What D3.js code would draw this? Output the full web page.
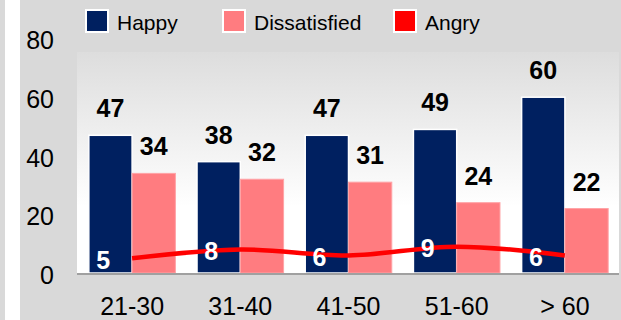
<!DOCTYPE html>
<html>
<head>
<meta charset="utf-8">
<script src="https://cdn.jsdelivr.net/npm/d3@7/dist/d3.min.js"></script>
<style>
  html, body { margin: 0; padding: 0; background: #d9d9d9; }
  svg { display: block; font-family: "Liberation Sans", Arial, sans-serif; }
</style>
</head>
<body>
<svg id="chart" width="621" height="320"></svg>
<script>
// Survey responses by age group
const categories = ["21-30", "31-40", "41-50", "51-60", "> 60"];
const happy = [47, 38, 47, 49, 60];
const dissatisfied = [34, 32, 31, 24, 22];
const angry = [5, 8, 6, 9, 6];
const yTicks = [0, 20, 40, 60, 80];
const seriesNames = ["Happy", "Dissatisfied", "Angry"];
const seriesColors = ["#002060", "#ff7c80", "#ff0000"];

const W = 621, H = 320;
const plot = { left: 77, right: 619, top: 52, bottom: 273 };

const svg = d3.select("#chart");

// page background with a white strip on the left
svg.append("rect").attr("width", W).attr("height", H).attr("fill", "#d9d9d9");
svg.append("rect").attr("x", 5).attr("y", 0).attr("width", 15).attr("height", H).attr("fill", "#ffffff");

// plot area with a grey-to-white vertical gradient
const defs = svg.append("defs");
const grad = defs.append("linearGradient").attr("id", "plotBg")
  .attr("x1", 0).attr("y1", 0).attr("x2", 0).attr("y2", 1);
grad.append("stop").attr("offset", "0%").attr("stop-color", "#dddddd");
grad.append("stop").attr("offset", "70%").attr("stop-color", "#ffffff");
grad.append("stop").attr("offset", "100%").attr("stop-color", "#ffffff");
svg.append("rect")
  .attr("x", plot.left).attr("y", plot.top)
  .attr("width", plot.right - plot.left).attr("height", plot.bottom - plot.top)
  .attr("fill", "url(#plotBg)");

const y = d3.scaleLinear().domain([0, 80]).range([plot.bottom, 38.6]);
const x0 = d3.scaleBand().domain(categories).range([plot.left + 1, plot.right])
  .paddingInner(0.2).paddingOuter(0.1);
const x1 = d3.scaleBand().domain(["Happy", "Dissatisfied"]).range([0, x0.bandwidth()]);

// bars
const barData = categories.map((c, i) => [
  { cat: c, key: "Happy", value: happy[i] },
  { cat: c, key: "Dissatisfied", value: dissatisfied[i] }
]).flat();

svg.append("g").selectAll("rect").data(barData).join("rect")
  .attr("x", d => x0(d.cat) + x1(d.key))
  .attr("y", d => y(d.value))
  .attr("width", x1.bandwidth())
  .attr("height", d => y(0) - y(d.value))
  .attr("fill", d => d.key === "Happy" ? seriesColors[0] : seriesColors[1])
  .attr("stroke", d => d.key === "Happy" ? "#ffffff" : "#ffa3a6")
  .attr("stroke-width", d => d.key === "Happy" ? 1.5 : 1);

// value labels above bars
svg.append("g").selectAll("text").data(barData).join("text")
  .attr("x", d => x0(d.cat) + x1(d.key) + x1.bandwidth() / 2)
  .attr("y", d => y(d.value) - 18)
  .attr("text-anchor", "middle")
  .attr("font-size", 25).attr("font-weight", "bold").attr("fill", "#000")
  .text(d => d.value);

// baseline
svg.append("line")
  .attr("x1", plot.left).attr("x2", plot.right)
  .attr("y1", plot.bottom + 1).attr("y2", plot.bottom + 1)
  .attr("stroke", "#a0a0a0").attr("stroke-width", 2);

// angry line
const cx = c => x0(c) + x0.bandwidth() / 2;
const line = d3.line()
  .x((d, i) => cx(categories[i]))
  .y(d => y(d))
  .curve(d3.curveCatmullRom.alpha(0.5));
svg.append("path").datum(angry)
  .attr("d", line)
  .attr("fill", "none")
  .attr("stroke", seriesColors[2])
  .attr("stroke-width", 4.5)
  .attr("stroke-linecap", "butt");

svg.append("g").selectAll("text").data(angry).join("text")
  .attr("x", (d, i) => cx(categories[i]) - 29)
  .attr("y", d => y(d) + 10.5)
  .attr("text-anchor", "middle")
  .attr("font-size", 25).attr("font-weight", "bold").attr("fill", "#ffffff")
  .text(d => d);

// y axis labels
const yAxis = d3.axisLeft(y).tickValues(yTicks).tickSize(0).tickPadding(0);
const gy = svg.append("g").attr("transform", "translate(54,0)").call(yAxis);
gy.select(".domain").remove();
gy.selectAll("text")
  .attr("font-size", 25).attr("font-family", "Liberation Sans, Arial, sans-serif")
  .attr("fill", "#000").attr("dy", "0.37em").attr("x", 0).attr("y", 1);

// x axis labels
const xAxis = d3.axisBottom(x0).tickSize(0).tickPadding(0);
const gx = svg.append("g").attr("transform", `translate(0,${plot.bottom})`).call(xAxis);
gx.select(".domain").remove();
gx.selectAll("text")
  .attr("font-size", 25).attr("font-family", "Liberation Sans, Arial, sans-serif")
  .attr("fill", "#000").attr("dy", 0).attr("y", 42);

// legend
const legendX = [85, 222, 393];
const leg = svg.append("g").selectAll("g").data(seriesNames).join("g")
  .attr("transform", (d, i) => `translate(${legendX[i]},9)`);
leg.append("rect")
  .attr("x", 1).attr("y", 1).attr("width", 22).attr("height", 22)
  .attr("fill", (d, i) => seriesColors[i])
  .attr("stroke", "#ffffff").attr("stroke-width", 2);
leg.append("text")
  .attr("x", 32).attr("y", 21)
  .attr("font-size", 21).attr("fill", "#000")
  .text(d => d);
</script>
</body>
</html>
